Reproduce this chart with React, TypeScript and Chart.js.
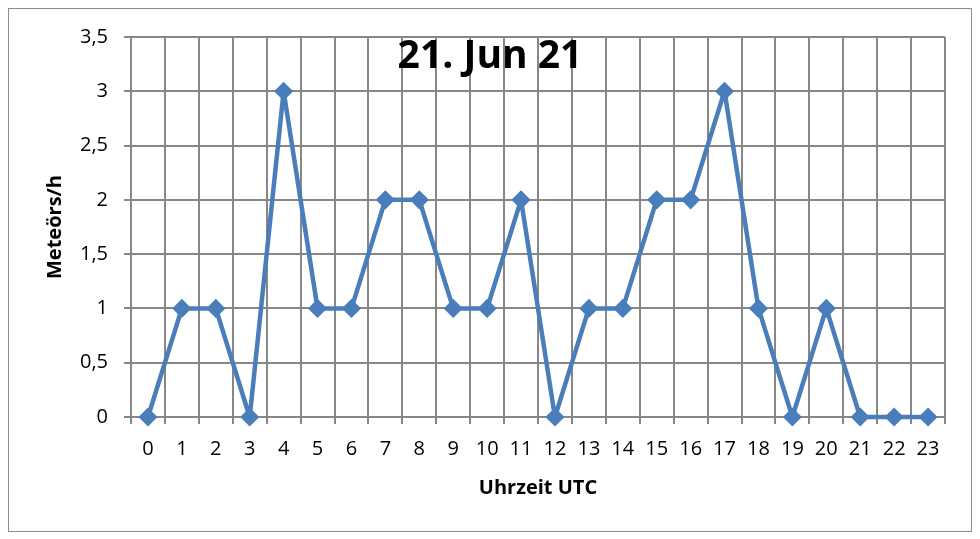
import React, { useEffect, useRef } from 'react';
import Chart from 'chart.js/auto';

const hours = ['0', '1', '2', '3', '4', '5', '6', '7', '8', '9', '10', '11', '12', '13', '14', '15', '16', '17', '18', '19', '20', '21', '22', '23'];
const meteorsPerHour = [0, 1, 1, 0, 3, 1, 1, 2, 2, 1, 1, 2, 0, 1, 1, 2, 2, 3, 1, 0, 1, 0, 0, 0];
const chartTitle = '21. Jun 21';
const yAxisTitle = 'Meteörs/h';
const xAxisTitle = 'Uhrzeit UTC';

const FONT = "'Open Sans', 'DejaVu Sans', sans-serif";
const GRID = '#878787';
const BLUE = '#4A7EBB';

// title sits inside the plot area, centred on the whole chart
const innerTitle = {
    id: 'innerTitle',
    afterDraw(chart: Chart) {
        const ctx = chart.ctx;
        ctx.save();
        ctx.font = `bold 39px ${FONT}`;
        ctx.fillStyle = '#000';
        ctx.textAlign = 'center';
        ctx.textBaseline = 'middle';
        ctx.fillText(chartTitle, chart.width / 2, 48);
        ctx.restore();
    }
};

const App = () => {
    const canvasRef = useRef<HTMLCanvasElement>(null);

    useEffect(() => {
        let chart: Chart<"line", number[], string> | null = null;

        if (canvasRef.current) {
            const ctx = canvasRef.current.getContext('2d');
            if (ctx) {
                chart = new Chart(ctx, {
                    type: 'line',
                    data: {
                        labels: hours,
                        datasets: [{
                            data: meteorsPerHour,
                            borderColor: BLUE,
                            backgroundColor: BLUE,
                            borderWidth: 4.5,
                            borderJoinStyle: 'round',
                            tension: 0,
                            pointStyle: 'rectRot',
                            pointRadius: 8.5,
                            pointHoverRadius: 8.5,
                            pointBorderWidth: 1.5,
                            pointBorderColor: BLUE,
                            pointBackgroundColor: BLUE,
                            clip: false
                        }]
                    },
                    options: {
                        animation: false,
                        responsive: false,
                        layout: { padding: { left: 0, right: 26, top: 28, bottom: 0 } },
                        plugins: {
                            legend: { display: false },
                            tooltip: { enabled: false },
                            title: { display: false }
                        },
                        scales: {
                            x: {
                                offset: true,
                                grid: { offset: true, color: GRID, lineWidth: 2, tickLength: 7 },
                                border: { color: GRID, width: 2 },
                                ticks: { color: '#000', padding: 13, maxRotation: 0, autoSkip: false, font: { family: FONT, size: 20 } },
                                title: { display: true, text: xAxisTitle, color: '#000', padding: { top: 0, bottom: 31 }, font: { family: FONT, size: 20, weight: 'bold' } },
                                afterFit: (scale) => { scale.height = 114; }
                            },
                            y: {
                                min: 0,
                                max: 3.5,
                                grid: { color: GRID, lineWidth: 2, tickLength: 7 },
                                border: { color: GRID, width: 2 },
                                ticks: {
                                    stepSize: 0.5,
                                    color: '#000',
                                    padding: 16,
                                    font: { family: FONT, size: 20 },
                                    callback: (v) => String(v).replace('.', ',')
                                },
                                title: { display: true, text: yAxisTitle, color: '#000', padding: { top: 34, bottom: 0 }, font: { family: FONT, size: 20, weight: 'bold' } },
                                afterFit: (scale) => { scale.width = 122; }
                            }
                        }
                    },
                    plugins: [innerTitle]
                });
            }
        }

        return () => {
            if (chart) chart.destroy();
        };
    }, []);

    return (
        <div style={{ width: 962, height: 522, border: '1px solid #8c8c8c', background: '#fff' }}>
            <canvas ref={canvasRef} width={962} height={522} style={{ display: 'block' }}></canvas>
        </div>
    );
};

export default App;
